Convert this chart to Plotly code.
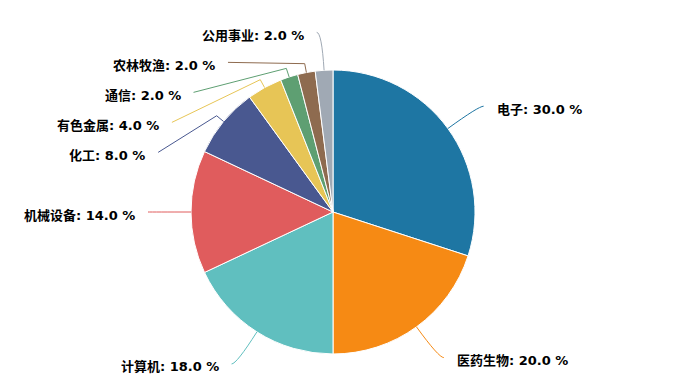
import math
import plotly.graph_objects as go

# ---- data ----
categories = ["电子", "医药生物", "计算机", "机械设备", "化工", "有色金属", "通信", "农林牧渔", "公用事业"]
values = [30.0, 20.0, 18.0, 14.0, 8.0, 4.0, 2.0, 2.0, 2.0]
colors = ["#1e76a3", "#f68a14", "#60bfbf", "#e05c5d", "#495890", "#e7c556", "#5e9f72", "#8e6b4f", "#a0a9b4"]

# ---- layout constants (screen pixels) ----
W, H = 688, 392
OFF = 8           # page body margin offset
cx, cy, r = 333, 212, 142
R1 = 180          # radius of first leader-line bend
L2 = 5            # horizontal tail of leader line
GAP = 30          # minimal vertical spacing of labels
TXT_GAP = 11
FONT = "DejaVu Sans, Noto Sans CJK SC, sans-serif"

fx, fy = cx - OFF, cy - OFF   # centre in figure coordinates

fig = go.Figure()
fig.add_trace(go.Pie(
    labels=categories, values=values, sort=False, direction="clockwise", rotation=0,
    marker=dict(colors=colors, line=dict(color="white", width=1)),
    textinfo="none", showlegend=False,
    domain=dict(x=[(fx - r) / W, (fx + r) / W], y=[1 - (fy + r) / H, 1 - (fy - r) / H]),
))

total = sum(values)
items = []
acc = 0.0
for cat, v, col in zip(categories, values, colors):
    mid = (acc + v / 2) / total * 2 * math.pi
    acc += v
    s, c = math.sin(mid), math.cos(mid)
    items.append(dict(cat=cat, v=v, col=col, s=s, c=c,
                      ny=cy - R1 * c, right=s >= 0))

# label overlap adjustment per side
for side in (True, False):
    grp = sorted([it for it in items if it["right"] == side], key=lambda t: t["ny"])
    prev = None
    for it in grp:
        y = it["ny"]
        if prev is not None and y < prev + GAP:
            y = prev + GAP
        it["y"] = y
        prev = y

shapes = []
annotations = []
for it in items:
    s, c, y = it["s"], it["c"], it["y"]
    p0 = (cx + r * s, cy - r * c)
    dy = y - cy
    dx = math.sqrt(max(R1 ** 2 - dy ** 2, 0))
    sign = 1 if it["right"] else -1
    p1x = cx + sign * dx
    p2 = (p1x + sign * L2, y)
    moved = abs(y - it["ny"]) > 4
    if moved:
        h = (p0[0] + 9 * s, p0[1] - 9 * c)
        path = f"M{p0[0]},{p0[1]} L{h[0]},{h[1]} L{p2[0]},{p2[1]}"
    else:
        path = f"M{p0[0]},{p0[1]} Q{p1x},{y} {p2[0]},{p2[1]}"
    shapes.append(dict(type="path", path=path, xref="x", yref="y",
                       line=dict(color=it["col"], width=1)))
    annotations.append(dict(
        x=p2[0] + sign * TXT_GAP, y=y + 3, xref="x", yref="y",
        text=f"{it['cat']}: {it['v']:.1f} %", showarrow=False,
        xanchor="left" if it["right"] else "right", yanchor="middle",
        font=dict(family=FONT, size=13, color="#000000", weight="bold"),
    ))

fig.update_layout(
    width=W, height=H, margin=dict(l=0, r=0, t=0, b=0),
    paper_bgcolor="white", plot_bgcolor="white",
    xaxis=dict(range=[OFF, W + OFF], visible=False, domain=[0, 1], fixedrange=True),
    yaxis=dict(range=[H + OFF, OFF], visible=False, domain=[0, 1], fixedrange=True),
    shapes=shapes, annotations=annotations,
)
fig.write_html("out.html")
